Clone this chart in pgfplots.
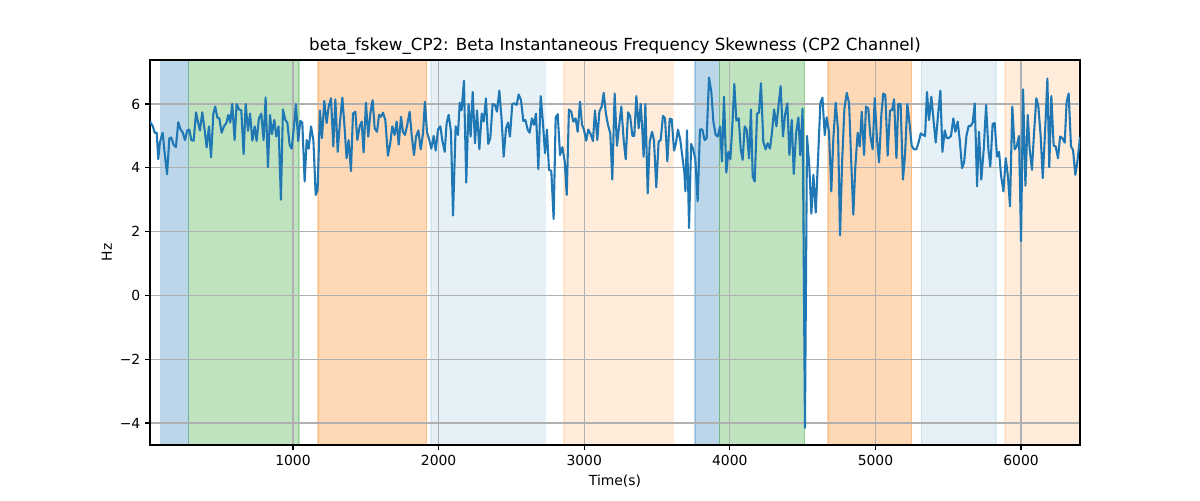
\documentclass[border=0pt]{standalone}
\usepackage{fontspec}
\setmainfont{DejaVu Sans}
\usepackage{pgfplots}
\pgfplotsset{compat=1.18}
\definecolor{tabblue}{HTML}{1F77B4}
\definecolor{taborange}{HTML}{FF7F0E}
\definecolor{tabgreen}{HTML}{2CA02C}
\definecolor{gridgray}{HTML}{B0B0B0}
\begin{document}
\begin{tikzpicture}
\begin{axis}[
  set layers,
  at={(0,0)}, anchor=south west,
  scale only axis,
  width=669.6pt, height=277.2pt,
  xmin=18, xmax=6405, ymin=-4.69, ymax=7.38,
  xtick={1000,2000,3000,4000,5000,6000},
  ytick={-4,-2,0,2,4,6},
  yticklabels={−4,−2,0,2,4,6},
  /pgf/number format/assume math mode=true,
  /pgf/number format/1000 sep={},
  tick label style={font=\fontsize{10}{12}\selectfont},
  tick align=outside, major tick length=3.5pt,
  xtick pos=bottom, ytick pos=left,
  tick style={black, line width=0.8pt},
  axis line style={black, line width=0.8pt},
  grid=major,
  major grid style={gridgray, line width=0.8pt},
  title={beta\_fskew\_CP2: Beta Instantaneous Frequency Skewness (CP2 Channel)},
  title style={font=\fontsize{12}{14}\selectfont, at={(axis description cs:0.5,1.036)}, anchor=center, yshift=-6pt},
  xlabel={Time(s)},
  xlabel style={font=\fontsize{10}{12}\selectfont, at={(axis description cs:0.5,-0.094)}, anchor=center},
  ylabel={Hz},
  ylabel style={font=\fontsize{10}{12}\selectfont, at={(axis description cs:-0.0464,0.5)}, anchor=center},
  clip=true,
]
\pgfplotsset{span/.style={on layer=axis background, forget plot, line width=1pt}}
\addplot[span, fill=tabblue, fill opacity=0.3, draw=tabblue, draw opacity=0.3] coordinates {(91,-4.69) (91,7.38) (284,7.38) (284,-4.69)} -- cycle;
\addplot[span, fill=tabgreen, fill opacity=0.3, draw=tabgreen, draw opacity=0.3] coordinates {(284,-4.69) (284,7.38) (1042,7.38) (1042,-4.69)} -- cycle;
\addplot[span, fill=taborange, fill opacity=0.3, draw=taborange, draw opacity=0.3] coordinates {(1172,-4.69) (1172,7.38) (1918,7.38) (1918,-4.69)} -- cycle;
\addplot[span, fill=tabblue, fill opacity=0.11, draw=tabblue, draw opacity=0.11] coordinates {(1948,-4.69) (1948,7.38) (2734,7.38) (2734,-4.69)} -- cycle;
\addplot[span, fill=taborange, fill opacity=0.15, draw=taborange, draw opacity=0.15] coordinates {(2861,-4.69) (2861,7.38) (3613,7.38) (3613,-4.69)} -- cycle;
\addplot[span, fill=tabblue, fill opacity=0.3, draw=tabblue, draw opacity=0.3] coordinates {(3761,-4.69) (3761,7.38) (3927,7.38) (3927,-4.69)} -- cycle;
\addplot[span, fill=tabgreen, fill opacity=0.3, draw=tabgreen, draw opacity=0.3] coordinates {(3927,-4.69) (3927,7.38) (4513,7.38) (4513,-4.69)} -- cycle;
\addplot[span, fill=taborange, fill opacity=0.3, draw=taborange, draw opacity=0.3] coordinates {(4674,-4.69) (4674,7.38) (5248,7.38) (5248,-4.69)} -- cycle;
\addplot[span, fill=tabblue, fill opacity=0.11, draw=tabblue, draw opacity=0.11] coordinates {(5315,-4.69) (5315,7.38) (5827,7.38) (5827,-4.69)} -- cycle;
\addplot[span, fill=taborange, fill opacity=0.15, draw=none] coordinates {(5890,-4.69) (5890,7.38) (6405,7.38) (6405,-4.69)} -- cycle;
\addplot[span, draw=taborange, draw opacity=0.15] coordinates {(5890,-4.69) (5890,7.38)};
\addplot[tabblue, line width=1.5pt, line join=round, mark=none] coordinates {
(18,5.45)(38,5.3)(50,5.1)(64,5.1)(75,4.27)(86,4.8)(105,5.1)(119,4.45)(135,3.8)(151,4.93)(164,4.95)(180,4.72)(196,4.65)(212,5.43)(228,5.2)(242,5.12)(258,4.87)(274,5.17)(288,5.2)(302,4.87)(318,4.85)(334,5.74)(347,5.45)(361,5.17)(377,5.74)(393,5.2)(407,4.64)(423,5.3)(437,4.33)(453,5.7)(466,5.92)(480,5.58)(494,5.55)(510,5.1)(526,5.3)(542,5.4)(556,5.66)(569,5.42)(583,6.0)(599,4.87)(613,6.0)(629,5.83)(645,5.8)(661,4.43)(675,6.0)(691,5.16)(705,5.7)(721,4.85)(737,5.3)(750,4.84)(766,5.55)(782,5.7)(798,4.87)(812,6.2)(828,4.02)(842,5.66)(856,5.06)(872,5.5)(885,4.98)(901,5.3)(917,3.0)(931,5.83)(947,5.5)(961,5.42)(977,4.72)(991,4.6)(1007,5.3)(1020,6.0)(1036,4.84)(1050,5.47)(1064,5.42)(1080,3.57)
(1094,4.87)(1108,4.6)(1124,5.3)(1140,4.87)(1156,3.15)(1169,3.3)(1185,5.8)(1199,4.93)(1215,6.1)(1231,5.4)(1245,5.92)(1261,6.18)(1277,4.67)(1291,6.15)(1307,4.5)(1323,5.45)(1339,6.2)(1353,5.35)(1368,4.3)(1382,4.87)(1398,3.9)(1412,5.7)(1428,5.76)(1442,4.87)(1458,5.3)(1472,5.45)(1485,4.48)(1501,6.04)(1517,4.98)(1531,5.7)(1547,6.12)(1561,5.24)(1577,5.13)(1591,5.66)(1604,5.6)(1618,5.73)(1634,5.5)(1652,4.38)(1668,4.77)(1682,5.3)(1698,5.03)(1712,5.45)(1726,4.73)(1742,5.6)(1755,5.13)(1769,5.03)(1785,5.35)(1801,5.76)(1815,5.03)(1831,4.4)(1845,4.98)(1861,5.17)(1877,4.58)(1893,5.08)(1906,6.07)(1920,5.13)(1936,4.87)(1950,4.6)(1966,5.0)(1980,4.54)(1996,5.2)(2012,5.3)(2025,4.87)(2042,4.5)(2055,5.4)(2069,5.66)(2085,5.13)(2099,2.5)(2117,5.3)(2133,5.03)
(2145,6.04)(2158,5.8)(2174,6.73)(2190,3.54)(2206,6.0)(2220,4.98)(2234,6.38)(2250,4.77)(2264,5.8)(2280,4.58)(2296,5.7)(2310,5.45)(2325,6.18)(2341,4.75)(2355,4.93)(2371,6.0)(2387,5.97)(2401,5.76)(2417,6.42)(2433,5.5)(2447,4.35)(2463,5.24)(2477,5.42)(2490,4.98)(2506,6.0)(2522,6.02)(2536,5.97)(2550,6.3)(2566,6.12)(2582,5.47)(2596,5.5)(2612,5.19)(2625,5.1)(2641,5.55)(2655,5.35)(2669,5.7)(2685,3.96)(2701,6.25)(2715,5.5)(2731,4.46)(2744,5.2)(2758,3.94)(2774,3.9)(2790,2.4)(2804,5.58)(2818,5.68)(2834,4.4)(2850,4.65)(2866,4.2)(2880,3.15)(2895,5.83)(2911,5.76)(2925,5.45)(2941,5.55)(2955,5.13)(2971,6.07)(2985,5.35)(2998,5.2)(3014,4.85)(3028,5.2)(3044,5.06)(3060,4.84)(3074,5.8)(3090,4.87)(3104,5.76)(3120,5.92)(3134,6.35)(3149,5.7)(3163,5.35)(3179,5.08)(3193,3.63)(3209,6.33)
(3225,4.69)(3241,5.35)(3255,5.92)(3271,4.87)(3285,4.27)(3301,5.74)(3315,5.63)(3331,5.0)(3344,5.0)(3358,6.25)(3374,5.24)(3388,6.0)(3399,5.19)(3408,4.35)(3420,6.0)(3436,3.2)(3450,4.82)(3466,5.13)(3479,4.87)(3495,3.39)(3511,4.82)(3525,4.87)(3541,5.63)(3555,5.55)(3571,4.2)(3587,5.54)(3601,5.52)(3617,4.54)(3630,4.77)(3644,5.2)(3660,4.87)(3674,4.35)(3688,3.85)(3695,3.26)(3706,5.17)(3720,2.11)(3734,4.75)(3747,4.6)(3763,4.27)(3779,2.95)(3795,5.2)(3811,5.2)(3827,4.87)(3841,4.93)(3857,6.83)(3873,6.38)(3887,5.45)(3903,5.03)(3917,4.98)(3933,5.3)(3946,4.2)(3960,6.23)(3976,3.85)(3990,4.5)(4004,4.27)(4017,5.3)(4031,6.63)(4045,5.48)(4061,5.55)(4075,4.58)(4088,4.25)(4102,5.3)(4116,5.19)(4132,4.3)(4145,5.83)(4157,3.73)(4171,3.57)(4187,5.7)(4200,5.73)(4214,6.65)(4230,4.82)(4246,4.58)(4260,4.77)
(4276,4.6)(4290,5.13)(4304,5.83)(4320,5.3)(4336,6.02)(4349,6.56)(4365,4.98)(4379,5.66)(4395,6.02)(4409,4.4)(4425,5.5)(4439,3.81)(4455,5.08)(4471,5.58)(4484,4.4)(4500,5.86)(4516,-4.15)(4530,5.0)(4546,4.04)(4560,2.56)(4574,3.78)(4590,2.6)(4606,4.3)(4622,6.04)(4636,6.2)(4652,5.03)(4665,5.58)(4681,5.13)(4697,3.26)(4711,4.93)(4727,6.04)(4743,5.19)(4757,1.88)(4771,4.15)(4787,5.86)(4803,6.35)(4819,6.02)(4832,4.4)(4848,2.53)(4862,4.04)(4878,5.1)(4892,4.67)(4906,5.76)(4922,4.4)(4935,5.92)(4951,5.86)(4965,5.0)(4981,4.58)(4995,6.18)(5011,4.9)(5025,4.17)(5041,5.69)(5054,6.33)(5068,6.28)(5084,4.38)(5100,5.8)(5114,5.8)(5128,6.15)(5144,4.3)(5157,6.0)(5173,6.0)(5189,3.63)(5203,4.38)(5219,6.0)(5233,5.45)(5249,4.69)(5265,4.58)(5281,4.58)(5295,4.77)(5311,5.08)(5327,5.03)
(5341,5.0)(5354,6.38)(5368,5.5)(5384,6.23)(5400,5.45)(5414,4.79)(5430,5.66)(5446,6.42)(5460,4.5)(5476,5.17)(5490,4.93)(5503,4.93)(5519,5.0)(5535,5.55)(5549,5.13)(5565,5.45)(5579,4.87)(5595,3.99)(5609,4.17)(5625,5.0)(5640,5.31)(5654,5.31)(5668,5.42)(5682,6.02)(5698,3.42)(5711,5.13)(5727,3.63)(5744,4.6)(5760,5.97)(5776,4.56)(5789,4.04)(5805,5.38)(5819,5.4)(5835,4.35)(5849,4.5)(5863,3.75)(5879,3.26)(5895,4.3)(5911,3.68)(5924,2.79)(5940,5.92)(5956,4.58)(5970,4.67)(5986,5.0)(6000,1.7)(6014,6.46)(6030,3.44)(6046,5.66)(6059,4.6)(6075,3.94)(6089,5.08)(6105,6.18)(6119,5.92)(6135,4.98)(6149,3.68)(6165,5.13)(6181,6.8)(6194,4.02)(6208,6.25)(6224,4.69)(6238,4.67)(6254,4.3)(6268,4.98)(6284,4.93)(6300,4.79)(6313,6.07)(6327,6.33)(6343,4.67)(6357,4.56)(6373,3.78)(6387,4.2)(6405,4.96)
};
\end{axis}
\pgfresetboundingbox
\path (-108pt,-39.6pt) rectangle (756pt,320.4pt);
\end{tikzpicture}
\end{document}
